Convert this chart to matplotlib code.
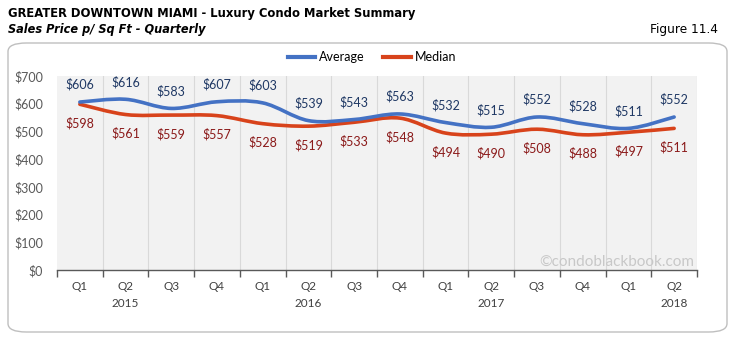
import matplotlib
matplotlib.use("Agg")

import matplotlib.pyplot as plt
from matplotlib.patches import FancyBboxPatch, PathPatch
from matplotlib.path import Path
from matplotlib.lines import Line2D

quarters = ["Q1", "Q2", "Q3", "Q4", "Q1", "Q2", "Q3", "Q4", "Q1", "Q2", "Q3", "Q4", "Q1", "Q2"]
years = {1: "2015", 5: "2016", 9: "2017", 13: "2018"}
average = [606, 616, 583, 607, 603, 539, 543, 563, 532, 515, 552, 528, 511, 552]
median = [598, 561, 559, 557, 528, 519, 533, 548, 494, 490, 508, 488, 497, 511]

TITLE_FONT = "DejaVu Sans"
LABEL_FONT = "Lato"

BLUE = "#4472C4"
RED = "#D8431B"


def smooth_path(xs, ys, tension=1 / 6):
    # Catmull-Rom through the points, written as cubic Bezier segments
    verts = [(xs[0], ys[0])]
    codes = [Path.MOVETO]
    n = len(xs)
    for i in range(n - 1):
        x0, y0 = (xs[i - 1], ys[i - 1]) if i > 0 else (xs[i], ys[i])
        x1, y1 = xs[i], ys[i]
        x2, y2 = xs[i + 1], ys[i + 1]
        x3, y3 = (xs[i + 2], ys[i + 2]) if i + 2 < n else (x2, y2)
        c1 = (x1 + (x2 - x0) * tension, y1 + (y2 - y0) * tension)
        c2 = (x2 - (x3 - x1) * tension, y2 - (y3 - y1) * tension)
        verts += [c1, c2, (x2, y2)]
        codes += [Path.CURVE4] * 3
    return Path(verts, codes)


fig = plt.figure(figsize=(7.33, 3.4), dpi=100)

# outer rounded frame
frame = FancyBboxPatch((8 / 733, 8 / 340), 719 / 733, 289 / 340,
                       boxstyle="round,pad=0,rounding_size=0.025",
                       transform=fig.transFigure, facecolor="white",
                       edgecolor="#BFBFBF", linewidth=1.0, zorder=0)
fig.patches.append(frame)

fig.text(8 / 733, 1 - 13 / 340, "GREATER DOWNTOWN MIAMI - Luxury Condo Market Summary",
         fontfamily=TITLE_FONT, fontstretch="condensed", fontweight="bold", fontsize=9.3,
         va="center", ha="left")
fig.text(8 / 733, 1 - 30 / 340, "Sales Price p/ Sq Ft - Quarterly",
         fontfamily=TITLE_FONT, fontstretch="condensed", fontweight="bold", fontstyle="italic",
         fontsize=9.1, va="center", ha="left")
fig.text(718 / 733, 1 - 30 / 340, "Figure 11.4",
         fontfamily=TITLE_FONT, fontstretch="condensed", fontsize=9.7, va="center", ha="right")

ax = fig.add_axes([57 / 733, 1 - 270 / 340, 640 / 733, 194 / 340])
ax.set_zorder(2)
ax.set_facecolor("#F2F2F2")
x = list(range(len(quarters)))
ax.set_xlim(-0.5, len(quarters) - 0.5)
ax.set_ylim(0, 700)

for b in range(len(quarters)):
    ax.axvline(b + 0.5, color="#D9D9D9", linewidth=0.8, zorder=1)

ax.add_patch(PathPatch(smooth_path(x, median), facecolor="none", edgecolor=RED,
                       linewidth=2.6, capstyle="round", zorder=3))
ax.add_patch(PathPatch(smooth_path(x, average), facecolor="none", edgecolor=BLUE,
                       linewidth=2.6, capstyle="round", zorder=4))

for xi, v in zip(x, average):
    ax.annotate(f"${v}", (xi, v), xytext=(0, 12.5), textcoords="offset points",
                ha="center", va="center", fontsize=9, color="#1F3864", fontfamily=LABEL_FONT)
for xi, v in zip(x, median):
    ax.annotate(f"${v}", (xi, v), xytext=(0, -13.5), textcoords="offset points",
                ha="center", va="center", fontsize=9, color="#8B1A1A", fontfamily=LABEL_FONT)

for side in ["top", "right", "left"]:
    ax.spines[side].set_visible(False)
ax.spines["bottom"].set_color("#595959")
ax.spines["bottom"].set_linewidth(1.0)

ax.set_yticks(range(0, 701, 100))
ax.set_yticklabels([f"${t}" for t in range(0, 701, 100)])
ax.tick_params(axis="y", length=0, pad=10, labelsize=9, labelcolor="#595959")
for lbl in ax.get_yticklabels():
    lbl.set_fontfamily(LABEL_FONT)

ax.set_xticks([b - 0.5 for b in range(len(quarters) + 1)])
ax.set_xticklabels([])
ax.tick_params(axis="x", length=5, width=1, color="#595959", direction="out")
for xi, q in zip(x, quarters):
    ax.text(xi, -0.085, q, transform=ax.get_xaxis_transform(), ha="center", va="center",
            fontsize=8.5, color="#404040", fontfamily=LABEL_FONT)
for xi, yr in years.items():
    ax.text(xi, -0.175, yr, transform=ax.get_xaxis_transform(), ha="center", va="center",
            fontsize=8.5, color="#404040", fontfamily=LABEL_FONT)

ax.text(0.995, 0.04, "©condoblackbook.com", transform=ax.transAxes, ha="right", va="center",
        fontsize=11, color="#C8C8C8", fontfamily=LABEL_FONT, zorder=2)

handles = [Line2D([], [], color=BLUE, linewidth=3), Line2D([], [], color=RED, linewidth=3)]
fig.legend(handles, ["Average", "Median"], loc="center", bbox_to_anchor=(372 / 733, 1 - 57 / 340),
           ncol=2, frameon=False, handlelength=2.2, handletextpad=0.3, columnspacing=1.5,
           prop={"family": LABEL_FONT, "size": 9})

fig.savefig("out.png", dpi=100)
